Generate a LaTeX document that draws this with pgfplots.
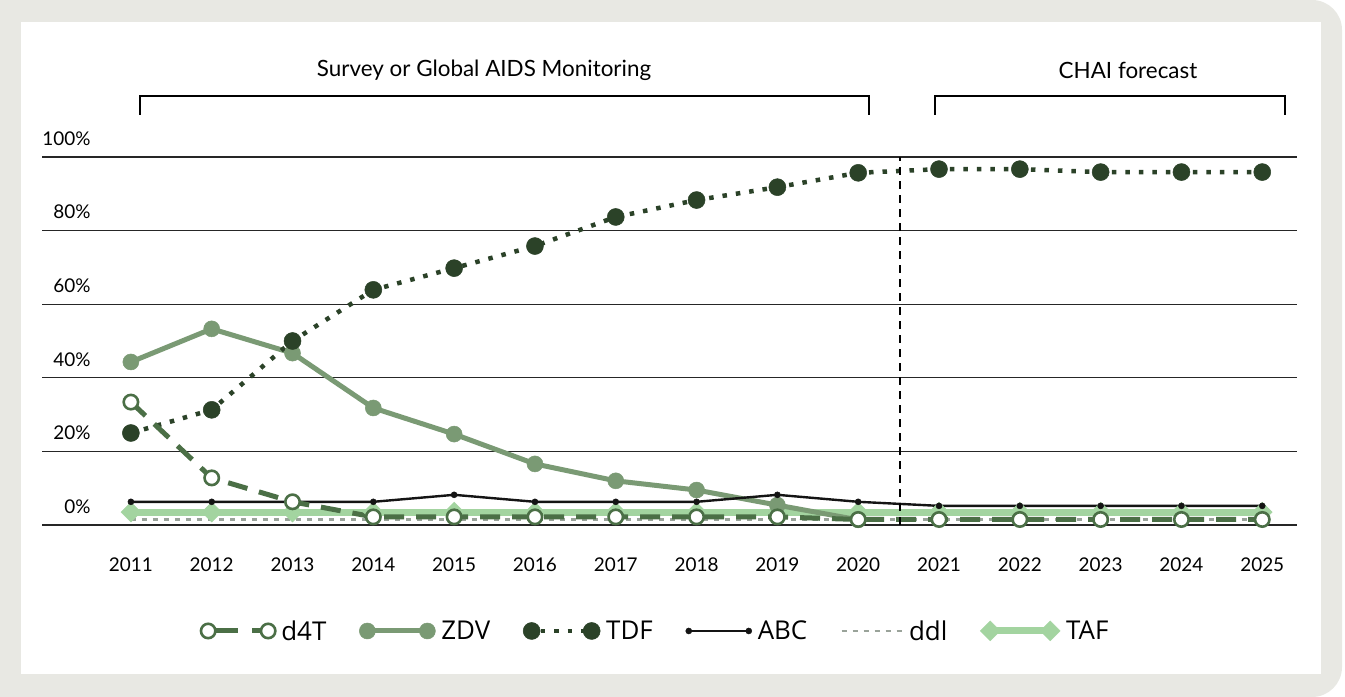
\documentclass[border=0pt]{standalone}
\usepackage{pgfplots}
\pgfplotsset{compat=1.18}
\usepackage{fontspec}
\setmainfont{Lato}
\newfontfamily\legfont{Open Sans}

\definecolor{frame}{HTML}{E8E8E3}
\definecolor{cdft}{HTML}{4B6F46}
\definecolor{czdv}{HTML}{7A9A74}
\definecolor{ctdf}{HTML}{2B4228}
\definecolor{cddl}{HTML}{9AA39A}
\definecolor{ctaf}{HTML}{A3D4A0}

\begin{document}
\begin{tikzpicture}
\useasboundingbox (0,0) rectangle (1345bp,697bp);
\clip (0,0) rectangle (1345bp,697bp);
\fill[white] (0,0) rectangle (1345bp,697bp);
\fill[frame, rounded corners=30bp] (-80bp,0bp) rectangle (1342bp,697bp);
\fill[white] (21bp,23bp) rectangle (1321bp,675bp);

% period brackets
\node[font=\fontsize{22.5}{26}\selectfont] at (484bp,627bp) {Survey or Global AIDS Monitoring};
\draw[line width=1.2bp] (140bp,582bp) -- (140bp,601bp) -- (869bp,601bp) -- (869bp,582bp);
\node[font=\fontsize{22.5}{26}\selectfont] at (1128bp,627bp) {CHAI forecast};
\draw[line width=1.2bp] (935bp,582bp) -- (935bp,601bp) -- (1285bp,601bp) -- (1285bp,582bp);

\begin{axis}[
    at={(42bp,172bp)}, anchor=south west,
    scale only axis, width=1255bp, height=368bp,
    xmin=-1.10, xmax=14.43, ymin=0, ymax=100,
    clip=false,
    axis line style={draw=none},
    major tick length=0pt,
    xtick={0,...,14},
    xticklabels={2011,2012,2013,2014,2015,2016,2017,2018,2019,2020,2021,2022,2023,2024,2025},
    ytick={0,20,40,60,80,100},
    yticklabels={0\%,20\%,40\%,60\%,80\%,100\%},
    ticklabel style={font=\fontsize{19}{22}\selectfont},
    yticklabel style={anchor=south east, xshift=52bp, yshift=8bp},
    xticklabel style={yshift=-29bp},
    ymajorgrids=true,
    grid style={black!85, line width=1.2bp},
    legend columns=6,
    legend style={at={(rel axis cs:0.489,-0.288)}, anchor=center, draw=none,
        font=\legfont\fontsize{26}{29}\selectfont,
        /tikz/every odd column/.append style={column sep=4bp},
        /tikz/every even column/.append style={column sep=31bp}},
    legend image code/.code={\draw[#1] plot coordinates {(0bp,0bp) (60bp,0bp)};},
]
% TAF
\addplot[forget plot, ctaf, line width=7bp, mark=square*, mark size=7bp,
    mark options={rotate=45, line width=0.5bp}] coordinates {
(0,3.5) (1,3.5) (2,3.5) (3,3.5) (4,3.5) (5,3.5) (6,3.5) (7,3.5)
(8,3.5) (9,3.5) (10,3.5) (11,3.5) (12,3.5) (13,3.5) (14,3.5)};
% ddl
\addplot[forget plot, cddl, line width=2.8bp, dash pattern=on 5bp off 6bp] coordinates {
(0,1.4) (1,1.4) (2,1.4) (3,1.4) (4,1.4) (5,1.4) (6,1.4) (7,1.4)
(8,1.4) (9,1.4) (10,1.4) (11,1.4) (12,1.4) (13,1.4) (14,1.4)};
% ZDV
\addplot[forget plot, czdv, line width=5bp, mark=*, mark size=8bp,
    mark options={line width=0.5bp}] coordinates {
(0,44.3) (1,53.3) (2,46.7) (3,31.8) (4,24.7) (5,16.6) (6,12.0) (7,9.5)
(8,5.4) (9,1.4)};
% ABC
\addplot[forget plot, black!92, line width=2.4bp, mark=*, mark size=3bp,
    mark options={line width=0.5bp}] coordinates {
(0,6.3) (1,6.3) (2,6.3) (3,6.3) (4,8.2) (5,6.3) (6,6.3) (7,6.3)
(8,8.2) (9,6.3) (10,5.2) (11,5.2) (12,5.2) (13,5.2) (14,5.2)};
% TDF
\addplot[forget plot, ctdf, line width=4.5bp, dash pattern=on 4.5bp off 9bp,
    mark=*, mark size=8.5bp, mark options={solid, line width=0.5bp}] coordinates {
(0,25.0) (1,31.3) (2,50.0) (3,63.9) (4,69.8) (5,75.8) (6,83.7) (7,88.3)
(8,91.8) (9,95.7) (10,96.7) (11,96.7) (12,95.9) (13,95.9) (14,95.9)};
% d4T
\addplot[forget plot, cdft, line width=5bp, dash pattern=on 20bp off 12bp,
    mark=*, mark size=7.2bp, mark options={solid, fill=white, line width=2.6bp}] coordinates {
(0,33.4) (1,12.8) (2,6.3) (3,2.2) (4,2.2) (5,2.2) (6,2.2) (7,2.2)
(8,2.2) (9,1.5) (10,1.5) (11,1.5) (12,1.5) (13,1.5) (14,1.5)};

% forecast divider
\draw[black, line width=2bp, dash pattern=on 8bp off 6bp] (axis cs:9.52,0) -- (axis cs:9.52,100);

% legend
\addlegendimage{cdft, line width=5bp, dash pattern=on 22bp off 14bp, dash phase=-8bp,
    mark=*, mark size=7.2bp, mark options={solid, fill=white, line width=2.6bp}}
\addlegendentry{d4T}
\addlegendimage{czdv, line width=5bp, mark=*, mark size=8bp, mark options={line width=0.5bp}}
\addlegendentry{ZDV}
\addlegendimage{ctdf, line width=4.5bp, dash pattern=on 4.5bp off 9bp, dash phase=-9bp,
    mark=*, mark size=8.5bp, mark options={solid, line width=0.5bp}}
\addlegendentry{TDF}
\addlegendimage{black!92, line width=2.4bp, mark=*, mark size=3bp, mark options={line width=0.5bp}}
\addlegendentry{ABC}
\addlegendimage{cddl, line width=2.8bp, dash pattern=on 5bp off 6bp}
\addlegendentry{ddl}
\addlegendimage{ctaf, line width=7bp, mark=square*, mark size=7bp,
    mark options={rotate=45, line width=0.5bp}}
\addlegendentry{TAF}
\end{axis}
\end{tikzpicture}
\end{document}
